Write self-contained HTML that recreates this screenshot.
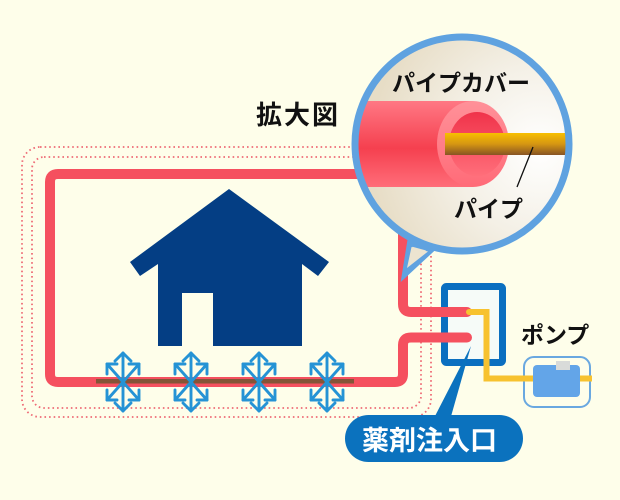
<!DOCTYPE html>
<html><head><meta charset="utf-8">
<style>
html,body{margin:0;padding:0;background:#fefeea;}
svg{display:block;}
text{font-family:"Liberation Sans","Noto Sans CJK JP",sans-serif;font-weight:700;}
</style></head>
<body>
<svg width="620" height="500" viewBox="0 0 620 500" xmlns="http://www.w3.org/2000/svg">
<defs>
  <radialGradient id="bg" cx="540" cy="150" r="170" gradientUnits="userSpaceOnUse">
    <stop offset="0" stop-color="#ffffff"/>
    <stop offset="0.5" stop-color="#f4f0e6"/>
    <stop offset="1" stop-color="#e7ddc6"/>
  </radialGradient>
  <linearGradient id="cyl" x1="0" y1="101" x2="0" y2="187" gradientUnits="userSpaceOnUse">
    <stop offset="0" stop-color="#ff7884"/>
    <stop offset="0.55" stop-color="#f5404f"/>
    <stop offset="1" stop-color="#ff6d79"/>
  </linearGradient>
  <linearGradient id="rim" x1="0" y1="101" x2="0" y2="187" gradientUnits="userSpaceOnUse">
    <stop offset="0" stop-color="#ff9199"/>
    <stop offset="1" stop-color="#ff6b78"/>
  </linearGradient>
  <linearGradient id="hole" x1="0" y1="112" x2="0" y2="176" gradientUnits="userSpaceOnUse">
    <stop offset="0" stop-color="#f0334a"/>
    <stop offset="1" stop-color="#ff6e7a"/>
  </linearGradient>
  <linearGradient id="gold" x1="0" y1="133" x2="0" y2="155" gradientUnits="userSpaceOnUse">
    <stop offset="0" stop-color="#f8bf00"/>
    <stop offset="0.5" stop-color="#d59612"/>
    <stop offset="1" stop-color="#875424"/>
  </linearGradient>
  <clipPath id="cc"><circle cx="462" cy="144" r="106"/></clipPath>
  <g id="flake" fill="none" stroke="#2593d5" stroke-width="2.9" stroke-linecap="round" stroke-linejoin="round">
    <line x1="0" y1="-29" x2="0" y2="29"/>
    <polyline points="-8,-21 0,-29 8,-21"/>
    <polyline points="-8,21 0,29 8,21"/>
    <line x1="0" y1="0" x2="-16" y2="-18"/>
    <line x1="0" y1="0" x2="16" y2="-18"/>
    <line x1="0" y1="0" x2="-16" y2="18"/>
    <line x1="0" y1="0" x2="16" y2="18"/>
    <polyline points="-16,-8 -16,-18 -6,-18"/>
    <polyline points="16,-8 16,-18 6,-18"/>
    <polyline points="-16,8 -16,18 -6,18"/>
    <polyline points="16,8 16,18 6,18"/>
  </g>
</defs>

<rect x="0" y="0" width="620" height="500" fill="#fefeea"/>

<!-- dotted rounded rectangles -->
<rect x="22" y="147" width="409" height="270" rx="18" fill="none" stroke="#ee6b76" stroke-width="1.8" stroke-dasharray="1.6 3" />
<rect x="32" y="157" width="389" height="251" rx="12" fill="none" stroke="#ee6b76" stroke-width="1.8" stroke-dasharray="1.6 3" />

<!-- house -->
<polygon fill="#043e84" points="229,189 329,262 318,276 302,264 302,346 213,346 213,293 182,293 182,346 158,346 158,264 140,276 130,262"/>

<!-- blue inlet box -->
<rect x="444.5" y="286.5" width="58" height="76" rx="2" fill="#f6fbf8" stroke="#0b6fc0" stroke-width="7"/>

<!-- red pipe -->
<g fill="none" stroke="#f5505f" stroke-width="10" stroke-linecap="round">
  <path d="M 365 174 H 58 Q 50 174 50 182 V 374 Q 50 382 58 382 H 395 Q 403 382 403 374 V 345 Q 403 337.5 411 337.5 H 467"/>
  <path d="M 403 230 V 304 Q 403 312 411 312 H 467"/>
</g>

<!-- brown pipe -->
<rect x="96" y="379" width="258" height="4.5" fill="#845437"/>

<!-- snowflakes -->
<use href="#flake" x="123" y="382"/>
<use href="#flake" x="191" y="382"/>
<use href="#flake" x="259" y="382"/>
<use href="#flake" x="327" y="382"/>

<!-- pump -->
<rect x="524" y="357" width="66" height="50" rx="10" fill="#fefeea" stroke="#6aa8e0" stroke-width="2"/>
<path d="M 469 312 H 486.5 V 378.5 H 592" fill="none" stroke="#f7c22f" stroke-width="6" stroke-linecap="butt" stroke-linejoin="miter"/>
<circle cx="469" cy="312" r="3" fill="#f7c22f"/>
<rect x="533" y="365" width="47" height="32" rx="4" fill="#63a5e8"/>
<rect x="556" y="361" width="14" height="9" fill="#d9dbd9"/>
<text x="521" y="343" font-size="23" fill="#111">ポンプ</text>

<!-- callout 薬剤注入口 -->
<polygon points="433,420 471,346 450,420" fill="#0b72be"/>
<rect x="345" y="415" width="178" height="47" rx="23.5" fill="#0b72be"/>
<text x="362" y="450" font-size="27" fill="#ffffff">薬剤注入口</text>

<!-- 拡大図 -->
<text x="256" y="124" font-size="26" letter-spacing="2" fill="#111">拡大図</text>

<!-- magnifier bubble -->
<polygon points="405,274 410,243 432,249" fill="#ece4d0" stroke="#5fa2e0" stroke-width="6" stroke-linejoin="miter"/>
<circle cx="462" cy="144" r="107" fill="url(#bg)"/>
<g clip-path="url(#cc)">
  <rect x="340" y="101" width="133" height="86" fill="url(#cyl)"/>
  <ellipse cx="473" cy="144" rx="36" ry="43" fill="url(#rim)"/>
  <ellipse cx="477" cy="144" rx="28" ry="32" fill="url(#hole)"/>
  <rect x="445" y="133" width="130" height="22" fill="url(#gold)"/>
  <line x1="533" y1="147" x2="517" y2="187" stroke="#111" stroke-width="1.3"/>
</g>
<circle cx="462" cy="144" r="107" fill="none" stroke="#5fa2e0" stroke-width="7"/>
<polygon points="407,268 411.5,247 428,251.5" fill="#ece4d0"/>

<text x="392" y="91" font-size="23" fill="#111">パイプカバー</text>
<text x="454" y="217" font-size="23" fill="#111">パイプ</text>
</svg>
</body></html>
